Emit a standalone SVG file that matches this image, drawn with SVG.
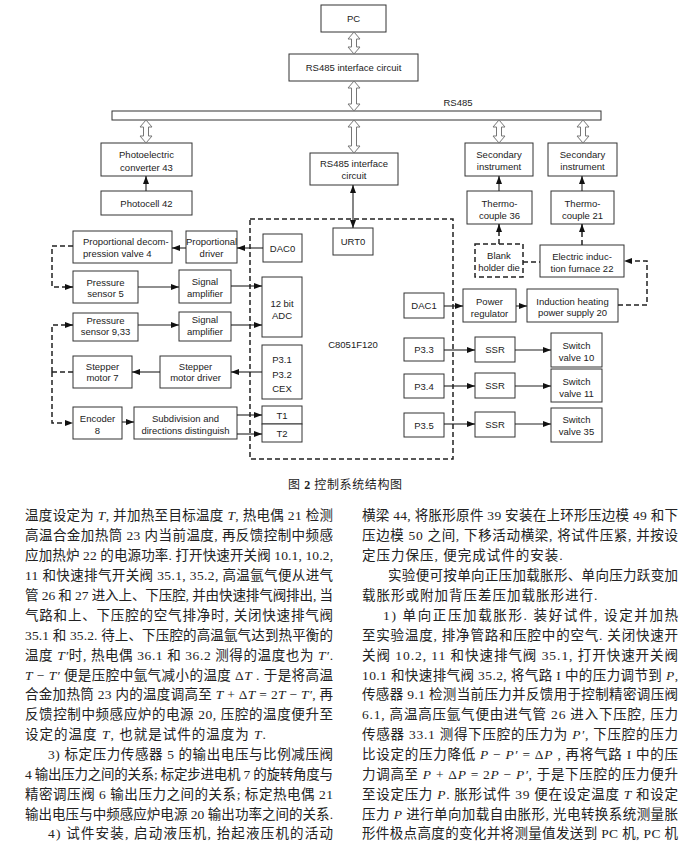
<svg xmlns="http://www.w3.org/2000/svg" width="695" height="841" viewBox="0 0 695 841">
<style>
.bx{fill:#fff;stroke:#333;stroke-width:1}
.db{fill:#fff;stroke:#222;stroke-width:1.5;stroke-dasharray:5 3}
.t{font-family:"Liberation Sans",Arial,sans-serif;font-size:9.5px;fill:#222;text-anchor:middle}
.ln{fill:none;stroke:#222;stroke-width:1.1}
.dl{fill:none;stroke:#222;stroke-width:1.5;stroke-dasharray:5 3}
.ha{fill:#fff;stroke:#777;stroke-width:1}
.bt{font-family:"Liberation Serif","Noto Sans CJK SC",serif;font-size:13.5px;fill:#222}
.cap{font-family:"Liberation Serif","Noto Sans CJK SC",serif;font-size:12px;fill:#222}
.i{font-style:italic}
</style>
<defs>
<marker id="ah" viewBox="0 0 8 6" refX="8" refY="3" markerWidth="8" markerHeight="6" markerUnits="userSpaceOnUse" orient="auto-start-reverse">
<path d="M0,0 L8,3 L0,6 Z" fill="#111"/>
</marker>
</defs>

<g id="pc"><rect class="bx" x="321" y="5" width="65" height="27"/><text class="t" x="353.5" y="22">PC</text></g>
<g id="rs485-top"><rect class="bx" x="289" y="54" width="129" height="27"/><text class="t" x="353.5" y="71">RS485 interface circuit</text></g>
<g id="bus"><rect class="bx" x="112" y="111" width="489" height="9"/><text class="t" x="458" y="106">RS485</text></g>

<g id="photoconv"><rect class="bx" x="101" y="143" width="91" height="33"/><text class="t" x="146.5" y="158">Photoelectric</text><text class="t" x="146.5" y="170.5">converter 43</text></g>
<g id="photocell"><rect class="bx" x="101" y="191" width="91" height="24"/><text class="t" x="146.5" y="206.5">Photocell 42</text></g>
<g id="rs485-mid"><rect class="bx" x="310" y="153" width="88" height="32"/><text class="t" x="354" y="166.5">RS485 interface</text><text class="t" x="354" y="178.5">circuit</text></g>
<g id="sec1"><rect class="bx" x="465" y="143" width="68" height="33"/><text class="t" x="499" y="157.5">Secondary</text><text class="t" x="499" y="169.5">instrument</text></g>
<g id="sec2"><rect class="bx" x="548" y="143" width="69" height="33"/><text class="t" x="582.5" y="157.5">Secondary</text><text class="t" x="582.5" y="169.5">instrument</text></g>
<g id="tc36"><rect class="bx" x="467" y="191" width="65" height="33"/><text class="t" x="499.5" y="206.5">Thermo-</text><text class="t" x="499.5" y="218.5">couple 36</text></g>
<g id="tc21"><rect class="bx" x="551" y="191" width="63" height="33"/><text class="t" x="582.5" y="206.5">Thermo-</text><text class="t" x="582.5" y="218.5">couple 21</text></g>
<g id="blank"><rect class="db" x="475" y="244" width="48" height="33"/><text class="t" x="499" y="258.5">Blank</text><text class="t" x="499" y="270.5">holder die</text></g>
<g id="furnace"><rect class="bx" x="540" y="245" width="84" height="32"/><text class="t" x="582" y="260">Electric induc-</text><text class="t" x="582" y="272">tion furnace 22</text></g>

<g id="mcu"><rect class="db" x="250" y="219" width="203" height="240" style="fill:none"/><text class="t" x="353" y="347.5">C8051F120</text></g>
<g id="urt0"><rect class="bx" x="333" y="228" width="40" height="27"/><text class="t" x="353" y="245">URT0</text></g>
<g id="dac0"><rect class="bx" x="263" y="234" width="39" height="28"/><text class="t" x="282.5" y="251.5">DAC0</text></g>
<g id="adc"><rect class="bx" x="262" y="277" width="40" height="60"/><text class="t" x="282" y="306.5">12 bit</text><text class="t" x="282" y="318.5">ADC</text></g>
<g id="p31"><rect class="bx" x="262" y="345" width="40" height="54"/><text class="t" x="282" y="362.5">P3.1</text><text class="t" x="282" y="377.5">P3.2</text><text class="t" x="282" y="391.5">CEX</text></g>
<g id="t1"><rect class="bx" x="262" y="406" width="40" height="18"/><text class="t" x="282" y="418.5">T1</text></g>
<g id="t2"><rect class="bx" x="262" y="424" width="40" height="18"/><text class="t" x="282" y="436.5">T2</text></g>
<g id="dac1"><rect class="bx" x="404" y="293" width="40" height="25"/><text class="t" x="424" y="309">DAC1</text></g>
<g id="p33"><rect class="bx" x="404" y="338" width="40" height="23"/><text class="t" x="424" y="353">P3.3</text></g>
<g id="p34"><rect class="bx" x="404" y="374" width="40" height="24"/><text class="t" x="424" y="389.5">P3.4</text></g>
<g id="p35"><rect class="bx" x="404" y="413" width="40" height="24"/><text class="t" x="424" y="428.5">P3.5</text></g>

<g id="preg"><rect class="bx" x="463" y="289" width="53" height="33"/><text class="t" x="489.5" y="305">Power</text><text class="t" x="489.5" y="317">regulator</text></g>
<g id="ihps"><rect class="bx" x="527" y="289" width="91" height="33"/><text class="t" x="572.5" y="304.5">Induction heating</text><text class="t" x="572.5" y="316">power supply 20</text></g>
<g id="ssr1"><rect class="bx" x="475" y="337" width="40" height="25"/><text class="t" x="495" y="353">SSR</text></g>
<g id="ssr2"><rect class="bx" x="475" y="373" width="40" height="25"/><text class="t" x="495" y="389">SSR</text></g>
<g id="ssr3"><rect class="bx" x="475" y="412" width="40" height="25"/><text class="t" x="495" y="427.5">SSR</text></g>
<g id="sv10"><rect class="bx" x="551" y="333" width="51" height="34"/><text class="t" x="576.5" y="348.5">Switch</text><text class="t" x="576.5" y="360.5">valve 10</text></g>
<g id="sv11"><rect class="bx" x="551" y="369" width="51" height="33"/><text class="t" x="576.5" y="384.5">Switch</text><text class="t" x="576.5" y="396.5">valve 11</text></g>
<g id="sv35"><rect class="bx" x="551" y="408" width="51" height="34"/><text class="t" x="576.5" y="422.5">Switch</text><text class="t" x="576.5" y="434.5">valve 35</text></g>

<g id="pvalve"><rect class="bx" x="73" y="231" width="99" height="32"/><text class="t" x="83" y="244.5" style="text-anchor:start">Proportional decom-</text><text class="t" x="83" y="256.5" style="text-anchor:start">pression valve 4</text></g>
<g id="pdriver"><rect class="bx" x="186" y="231" width="51" height="32"/><text class="t" x="211.5" y="244.5">Proportional</text><text class="t" x="211.5" y="256.5">driver</text></g>
<g id="ps5"><rect class="bx" x="73" y="271" width="65" height="32"/><text class="t" x="105.5" y="285.5">Pressure</text><text class="t" x="105.5" y="297">sensor 5</text></g>
<g id="amp1"><rect class="bx" x="179" y="270" width="52" height="33"/><text class="t" x="205" y="284.5">Signal</text><text class="t" x="205" y="297">amplifier</text></g>
<g id="ps933"><rect class="bx" x="73" y="313" width="65" height="28"/><text class="t" x="105.5" y="323.5">Pressure</text><text class="t" x="105.5" y="335">sensor 9,33</text></g>
<g id="amp2"><rect class="bx" x="179" y="312" width="52" height="29"/><text class="t" x="205" y="323">Signal</text><text class="t" x="205" y="335">amplifier</text></g>
<g id="stepper"><rect class="bx" x="73" y="356" width="59" height="32"/><text class="t" x="102.5" y="369.5">Stepper</text><text class="t" x="102.5" y="381">motor 7</text></g>
<g id="sdriver"><rect class="bx" x="160" y="356" width="71" height="32"/><text class="t" x="195.5" y="369.5">Stepper</text><text class="t" x="195.5" y="381">motor driver</text></g>
<g id="encoder"><rect class="bx" x="73" y="407" width="49" height="32"/><text class="t" x="97.5" y="422">Encoder</text><text class="t" x="97.5" y="434">8</text></g>
<g id="subdiv"><rect class="bx" x="134" y="407" width="103" height="32"/><text class="t" x="185.5" y="422">Subdivision and</text><text class="t" x="185.5" y="434">directions distinguish</text></g>

<g id="connectors">
<path class="ha" d="M354,32 l6,7 h-3.5 V47 h3.5 L354,54 l-6,-7 h3.5 V39 h-3.5 Z"/>
<path class="ha" d="M354,81 l6,7 h-3.5 V104 h3.5 L354,111 l-6,-7 h3.5 V88 h-3.5 Z"/>
<path class="ha" d="M146,120 l6,7 h-3.5 V136 h3.5 L146,143 l-6,-7 h3.5 V127 h-3.5 Z"/>
<path class="ha" d="M354,120 l6,7 h-3.5 V146 h3.5 L354,153 l-6,-7 h3.5 V127 h-3.5 Z"/>
<path class="ha" d="M499,120 l6,7 h-3.5 V136 h3.5 L499,143 l-6,-7 h3.5 V127 h-3.5 Z"/>
<path class="ha" d="M583,120 l6,7 h-3.5 V136 h3.5 L583,143 l-6,-7 h3.5 V127 h-3.5 Z"/>
<line class="ln" x1="146" y1="191" x2="146" y2="176" marker-end="url(#ah)"/>
<line class="ln" x1="353" y1="185" x2="353" y2="228" marker-start="url(#ah)" marker-end="url(#ah)"/>
<line class="ln" x1="499" y1="191" x2="499" y2="176" marker-end="url(#ah)"/>
<line class="ln" x1="582" y1="191" x2="582" y2="176" marker-end="url(#ah)"/>
<line class="dl" x1="499" y1="244" x2="499" y2="224" marker-end="url(#ah)"/>
<line class="dl" x1="582" y1="245" x2="582" y2="224" marker-end="url(#ah)"/>
<line class="dl" x1="523" y1="262" x2="540" y2="262"/>
<polyline class="dl" points="618,305 647,305 647,261 624,261" marker-end="url(#ah)"/>
<line class="ln" x1="444" y1="306" x2="463" y2="306" marker-end="url(#ah)"/>
<line class="ln" x1="516" y1="306" x2="527" y2="306" marker-end="url(#ah)"/>
<line class="ln" x1="444" y1="350" x2="475" y2="350" marker-end="url(#ah)"/>
<line class="ln" x1="515" y1="350" x2="551" y2="350" marker-end="url(#ah)"/>
<line class="ln" x1="444" y1="386" x2="475" y2="386" marker-end="url(#ah)"/>
<line class="ln" x1="515" y1="386" x2="551" y2="386" marker-end="url(#ah)"/>
<line class="ln" x1="444" y1="424" x2="475" y2="424" marker-end="url(#ah)"/>
<line class="ln" x1="515" y1="424" x2="551" y2="424" marker-end="url(#ah)"/>
<line class="ln" x1="263" y1="248" x2="237" y2="248" marker-end="url(#ah)"/>
<line class="ln" x1="186" y1="248" x2="172" y2="248" marker-end="url(#ah)"/>
<line class="ln" x1="138" y1="287" x2="179" y2="287" marker-end="url(#ah)"/>
<line class="ln" x1="231" y1="286" x2="262" y2="286" marker-end="url(#ah)"/>
<line class="ln" x1="138" y1="325" x2="179" y2="325" marker-end="url(#ah)"/>
<line class="ln" x1="231" y1="325" x2="262" y2="325" marker-end="url(#ah)"/>
<line class="ln" x1="262" y1="372" x2="231" y2="372" marker-end="url(#ah)"/>
<line class="ln" x1="160" y1="372" x2="132" y2="372" marker-end="url(#ah)"/>
<line class="ln" x1="122" y1="422" x2="134" y2="422" marker-end="url(#ah)"/>
<line class="ln" x1="237" y1="415" x2="262" y2="415" marker-end="url(#ah)"/>
<line class="ln" x1="237" y1="434" x2="262" y2="434" marker-end="url(#ah)"/>
<polyline class="dl" points="73,246 52,246 52,287 73,287" marker-end="url(#ah)"/>
<line class="dl" x1="73" y1="372" x2="52" y2="372"/>
<polyline class="dl" points="52,372 52,325 73,325" marker-end="url(#ah)"/>
<polyline class="dl" points="52,372 52,423 73,423" marker-end="url(#ah)"/>
</g>

<g id="caption"><text class="cap" x="288" y="489" textLength="114" lengthAdjust="spacing">图 <tspan font-weight="bold">2</tspan>   控制系统结构图</text></g>

<g id="body-left">
<text class="bt" x="25" y="520" textLength="308" lengthAdjust="spacing">温度设定为 <tspan class="i">T</tspan>, 并加热至目标温度 <tspan class="i">T</tspan>, 热电偶 21 检测</text>
<text class="bt" x="25" y="540" textLength="308" lengthAdjust="spacing">高温合金加热筒 23 内当前温度, 再反馈控制中频感</text>
<text class="bt" x="25" y="560" textLength="308" lengthAdjust="spacing">应加热炉 22 的电源功率. 打开快速开关阀 10.1, 10.2,</text>
<text class="bt" x="25" y="580" textLength="308" lengthAdjust="spacing">11 和快速排气开关阀 35.1, 35.2, 高温氩气便从进气</text>
<text class="bt" x="25" y="600" textLength="308" lengthAdjust="spacing">管 26 和 27 进入上、下压腔, 并由快速排气阀排出, 当</text>
<text class="bt" x="25" y="619.5" textLength="308" lengthAdjust="spacing">气路和上、下压腔的空气排净时, 关闭快速排气阀</text>
<text class="bt" x="25" y="639.5" textLength="308" lengthAdjust="spacing">35.1 和 35.2. 待上、下压腔的高温氩气达到热平衡的</text>
<text class="bt" x="25" y="659.5" textLength="308" lengthAdjust="spacing">温度 <tspan class="i">T′</tspan>时, 热电偶 36.1 和 36.2 测得的温度也为 <tspan class="i">T′</tspan>.</text>
<text class="bt" x="25" y="679.5" textLength="308" lengthAdjust="spacing"><tspan class="i">T</tspan> − <tspan class="i">T′</tspan> 便是压腔中氩气减小的温度 Δ<tspan class="i">T</tspan> . 于是将高温</text>
<text class="bt" x="25" y="699" textLength="308" lengthAdjust="spacing">合金加热筒 23 内的温度调高至 <tspan class="i">T</tspan> + Δ<tspan class="i">T</tspan> = 2<tspan class="i">T</tspan> − <tspan class="i">T′</tspan>, 再</text>
<text class="bt" x="25" y="719" textLength="308" lengthAdjust="spacing">反馈控制中频感应炉的电源 20, 压腔的温度便升至</text>
<text class="bt" x="25" y="739" letter-spacing="1">设定的温度 <tspan class="i">T</tspan>, 也就是试件的温度为 <tspan class="i">T</tspan>.</text>
<text class="bt" x="48" y="759" textLength="285" lengthAdjust="spacing">3) 标定压力传感器 5 的输出电压与比例减压阀</text>
<text class="bt" x="25" y="778.5" textLength="308" lengthAdjust="spacing">4 输出压力之间的关系; 标定步进电机 7 的旋转角度与</text>
<text class="bt" x="25" y="798.5" textLength="308" lengthAdjust="spacing">精密调压阀 6 输出压力之间的关系; 标定热电偶 21</text>
<text class="bt" x="25" y="818.5" textLength="308" lengthAdjust="spacing">输出电压与中频感应炉电源 20 输出功率之间的关系.</text>
<text class="bt" x="48" y="838" textLength="285" lengthAdjust="spacing">4) 试件安装, 启动液压机, 抬起液压机的活动</text>
</g>

<g id="body-right">
<text class="bt" x="362" y="520" textLength="316" lengthAdjust="spacing">横梁 44, 将胀形原件 39 安装在上环形压边模 49 和下</text>
<text class="bt" x="362" y="540" textLength="316" lengthAdjust="spacing">压边模 50 之间, 下移活动横梁, 将试件压紧, 并按设</text>
<text class="bt" x="362" y="560" letter-spacing="1">定压力保压, 便完成试件的安装.</text>
<text class="bt" x="388" y="580" textLength="290" lengthAdjust="spacing">实验便可按单向正压加载胀形、单向压力跃变加</text>
<text class="bt" x="362" y="600" letter-spacing="1">载胀形或附加背压差压加载胀形进行.</text>
<text class="bt" x="383" y="619.5" textLength="295" lengthAdjust="spacing">1) 单向正压加载胀形. 装好试件, 设定并加热</text>
<text class="bt" x="362" y="639.5" textLength="316" lengthAdjust="spacing">至实验温度, 排净管路和压腔中的空气. 关闭快速开</text>
<text class="bt" x="362" y="659.5" textLength="316" lengthAdjust="spacing">关阀 10.2, 11 和快速排气阀 35.1, 打开快速开关阀</text>
<text class="bt" x="362" y="679.5" textLength="316" lengthAdjust="spacing">10.1 和快速排气阀 35.2, 将气路 I 中的压力调节到 <tspan class="i">P</tspan>,</text>
<text class="bt" x="362" y="699" textLength="316" lengthAdjust="spacing">传感器 9.1 检测当前压力并反馈用于控制精密调压阀</text>
<text class="bt" x="362" y="719" textLength="316" lengthAdjust="spacing">6.1, 高温高压氩气便由进气管 26 进入下压腔, 压力</text>
<text class="bt" x="362" y="739" textLength="316" lengthAdjust="spacing">传感器 33.1 测得下压腔的压力为 <tspan class="i">P′</tspan>, 下压腔的压力</text>
<text class="bt" x="362" y="759" textLength="316" lengthAdjust="spacing">比设定的压力降低 <tspan class="i">P</tspan> − <tspan class="i">P′</tspan> = Δ<tspan class="i">P</tspan> , 再将气路 I 中的压</text>
<text class="bt" x="362" y="778.5" textLength="316" lengthAdjust="spacing">力调高至 <tspan class="i">P</tspan> + Δ<tspan class="i">P</tspan> = 2<tspan class="i">P</tspan> − <tspan class="i">P′</tspan>, 于是下压腔的压力便升</text>
<text class="bt" x="362" y="798.5" textLength="316" lengthAdjust="spacing">至设定压力 <tspan class="i">P</tspan>. 胀形试件 39 便在设定温度 <tspan class="i">T</tspan> 和设定</text>
<text class="bt" x="362" y="818.5" textLength="316" lengthAdjust="spacing">压力 <tspan class="i">P</tspan> 进行单向加载自由胀形, 光电转换系统测量胀</text>
<text class="bt" x="362" y="838" textLength="316" lengthAdjust="spacing">形件极点高度的变化并将测量值发送到 PC 机, PC 机</text>
</g>
</svg>
